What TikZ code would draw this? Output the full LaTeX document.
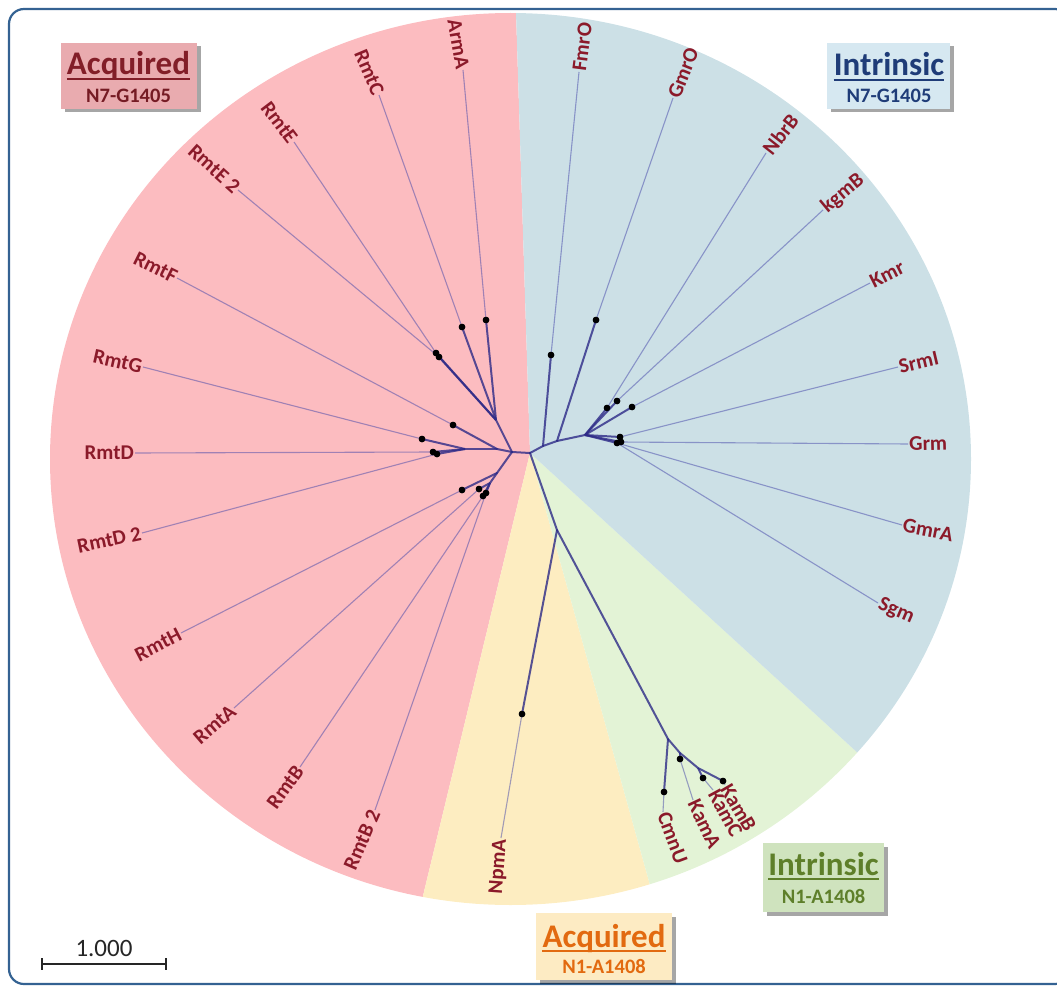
\documentclass[tikz,border=0pt]{standalone}
\usepackage{fontspec}
\setmainfont{Carlito}
\usetikzlibrary{shadows}
\definecolor{secpink}{RGB}{252,188,192}
\definecolor{secblue}{RGB}{204,224,230}
\definecolor{secyellow}{RGB}{253,237,193}
\definecolor{secgreen}{RGB}{227,243,214}
\definecolor{branchcol}{RGB}{45,42,135}
\definecolor{leafcol}{RGB}{70,72,170}
\definecolor{labcol}{RGB}{139,26,42}
\definecolor{framecol}{RGB}{52,98,146}
\definecolor{boxApink}{RGB}{233,171,175}
\definecolor{boxIblue}{RGB}{214,232,241}
\definecolor{boxIgreen}{RGB}{207,227,190}
\definecolor{boxAyellow}{RGB}{253,235,195}
\definecolor{txtApink}{RGB}{130,30,40}
\definecolor{txtIblue}{RGB}{31,60,120}
\definecolor{txtIgreen}{RGB}{94,127,42}
\definecolor{txtAyellow}{RGB}{226,106,16}
\newcommand\labfont{\fontsize{21}{25}\selectfont\bfseries}
\newcommand\legtitlefont{\fontsize{33}{38}\selectfont\bfseries}
\newcommand\legsubfont{\fontsize{20.5}{24}\selectfont\bfseries}
\newcommand\scalefont{\fontsize{25}{30}\selectfont}
\begin{document}
\begin{tikzpicture}[x=1pt,y=-1pt,
  dot/.style={circle, fill=black, inner sep=0pt, minimum size=6.5pt},
  branch/.style={draw=branchcol, draw opacity=0.8, line width=2pt},
  leafline/.style={draw=leafcol, draw opacity=0.5, line width=1.1pt},
  lab/.style={text=labcol, font=\labfont, inner sep=1pt},
  legbox/.style={inner sep=0pt, drop shadow={shadow xshift=3.5pt, shadow yshift=-3.5pt, fill=black, opacity=0.35}},
  legtitle/.style={anchor=base, inner sep=0pt, font=\legtitlefont},
  legsub/.style={anchor=base, inner sep=0pt, font=\legsubfont}]
\useasboundingbox (0,0) rectangle (1057,987);
% sectors
\begin{scope}
\clip (510.5,459) ellipse [x radius=460.5, y radius=446];
\fill[secpink] (530,453) -- (488,-870) -- (-1000,-870) -- (-1000,1794) -- (206,1794) -- cycle;
\fill[secyellow] (530,453) -- (206,1794) -- (890,1749) -- cycle;
\fill[secgreen] (530,453) -- (890,1749) -- (1520,1359) -- cycle;
\fill[secblue] (530,453) -- (1520,1359) -- (2000,1359) -- (2000,-870) -- (488,-870) -- cycle;
\end{scope}
% frame
\draw[framecol, line width=2.2pt, rounded corners=15pt] (9,9) rectangle (1070,984);
% internal coordinates
\coordinate (R) at (530,453);
\coordinate (P1) at (512,452);
\coordinate (P2) at (496,420);
\coordinate (P3) at (497,449);
\coordinate (P4) at (465,449);
\coordinate (P5) at (497,473);
\coordinate (P6) at (490,483);
\coordinate (B1) at (543,446);
\coordinate (B2) at (557,441);
\coordinate (B3) at (585,435);
\coordinate (Y1) at (557,530);
\coordinate (G1) at (668,739);
\coordinate (G2) at (680,753);
\coordinate (G3) at (698,768);
% dots
\node[dot] (dArmA) at (486,320) {};
\node[dot] (dRmtC) at (462,327) {};
\node[dot] (dRmtE) at (436,353) {};
\node[dot] (dRmtEb) at (439,357) {};
\node[dot] (dRmtF) at (453,425) {};
\node[dot] (dRmtG) at (422,439) {};
\node[dot] (dRmtD) at (433,452) {};
\node[dot] (dRmtDb) at (437,454) {};
\node[dot] (dRmtH) at (462,490) {};
\node[dot] (dRmtA) at (479,489) {};
\node[dot] (dRmtB) at (483,496) {};
\node[dot] (dRmtBb) at (486,493) {};
\node[dot] (dNpmA) at (522,714) {};
\node[dot] (dCmnU) at (664,792) {};
\node[dot] (dKamA) at (680,759) {};
\node[dot] (dKamC) at (703,778) {};
\node[dot] (dKamB) at (723,781) {};
\node[dot] (dFmrO) at (551,355) {};
\node[dot] (dGmrO) at (596,320) {};
\node[dot] (dNbrB) at (607,408) {};
\node[dot] (dkgmB) at (617,401) {};
\node[dot] (dKmr) at (632,407) {};
\node[dot] (dc1) at (617,443) {};
\node[dot] (dc2) at (620,437) {};
\node[dot] (dc3) at (621,442) {};
% leaf ends
\coordinate (eArmA) at (463,70);
\coordinate (eRmtC) at (379,95);
\coordinate (eRmtE) at (294,142);
\coordinate (eRmtEb) at (238,190);
\coordinate (eRmtF) at (177,278);
\coordinate (eRmtG) at (143,367);
\coordinate (eRmtD) at (135,453);
\coordinate (eRmtDb) at (142,533);
\coordinate (eRmtH) at (181,633);
\coordinate (eRmtA) at (234,708);
\coordinate (eRmtB) at (300,767);
\coordinate (eRmtBb) at (375,810);
\coordinate (eNpmA) at (501,838);
\coordinate (eCmnU) at (663,812);
\coordinate (eKamA) at (693,800);
\coordinate (eKamC) at (713,790);
\coordinate (eKamB) at (725,785);
\coordinate (eSgm) at (878,603);
\coordinate (eGmrA) at (902,525);
\coordinate (eGrm) at (908,444);
\coordinate (eSrmI) at (898,367);
\coordinate (eKmr) at (870,283);
\coordinate (ekgmB) at (823,210);
\coordinate (eNbrB) at (766,153);
\coordinate (eGmrO) at (673,98);
\coordinate (eFmrO) at (579,72);
% leaf lines
\foreach \n/\d in {ArmA/dArmA, RmtC/dRmtC, RmtE/dRmtE, RmtEb/dRmtEb, RmtF/dRmtF, RmtG/dRmtG, RmtD/dRmtD, RmtDb/dRmtDb, RmtH/dRmtH, RmtA/dRmtA, RmtB/dRmtB, RmtBb/dRmtBb, NpmA/dNpmA, CmnU/dCmnU, KamA/dKamA, KamC/dKamC, KamB/dKamB, Sgm/dc1, GmrA/dc1, Grm/dc3, SrmI/dc2, Kmr/dKmr, kgmB/dkgmB, NbrB/dNbrB, GmrO/dGmrO, FmrO/dFmrO}
  \draw[leafline] (\d.center) -- (e\n);
% internal branches
\foreach \a/\b in {R/P1, P1/P2, P1/P3, P3/P4, P1/P5, P5/P6, R/B1, B1/B2, B2/B3, R/Y1, Y1/G1, G1/G2, G2/G3}
  \draw[branch, line cap=round] (\a) -- (\b);
\foreach \a/\b in {P2/dArmA, P2/dRmtC, P2/dRmtE, P2/dRmtEb, P3/dRmtF, P4/dRmtG, P4/dRmtD, P4/dRmtDb, P5/dRmtH, P6/dRmtA, P6/dRmtB, P6/dRmtBb, Y1/dNpmA, G1/dCmnU, G2/dKamA, G3/dKamC, G3/dKamB, B1/dFmrO, B2/dGmrO, B3/dNbrB, B3/dkgmB, B3/dKmr, B3/dc1, B3/dc2, B3/dc3}
  \draw[branch] (\a) -- (\b.center);
% redraw dots on top
\foreach \d in {dArmA, dRmtC, dRmtE, dRmtEb, dRmtF, dRmtG, dRmtD, dRmtDb, dRmtH, dRmtA, dRmtB, dRmtBb, dNpmA, dCmnU, dKamA, dKamC, dKamB, dFmrO, dGmrO, dNbrB, dkgmB, dKmr, dc1, dc2, dc3}
  \fill[black] (\d.center) circle (3.25);
% leaf labels
\node[lab, anchor=east, rotate=-80.1] (lArmA) at (eArmA) {ArmA};
\node[lab, anchor=east, rotate=-67.1] (lRmtC) at (eRmtC) {RmtC};
\node[lab, anchor=east, rotate=-52.8] (lRmtE) at (eRmtE) {RmtE};
\node[lab, anchor=east, rotate=-42.0] (lRmtEb) at (eRmtEb) {RmtE 2};
\node[lab, anchor=east, rotate=-26.4] (lRmtF) at (eRmtF) {RmtF};
\node[lab, anchor=east, rotate=-12.5] (lRmtG) at (eRmtG) {RmtG};
\node[lab, anchor=east, rotate=0] (lRmtD) at (eRmtD) {RmtD};
\node[lab, anchor=east, rotate=11.7] (lRmtDb) at (eRmtDb) {RmtD 2};
\node[lab, anchor=east, rotate=27.3] (lRmtH) at (eRmtH) {RmtH};
\node[lab, anchor=east, rotate=40.7] (lRmtA) at (eRmtA) {RmtA};
\node[lab, anchor=east, rotate=53.8] (lRmtB) at (eRmtB) {RmtB};
\node[lab, anchor=east, rotate=66.5] (lRmtBb) at (eRmtBb) {RmtB 2};
\node[lab, anchor=east, rotate=85.7] (lNpmA) at (eNpmA) {NpmA};
\node[lab, anchor=west, rotate=-69.7] (lCmnU) at (eCmnU) {CmnU};
\node[lab, anchor=west, rotate=-64.8] (lKamA) at (eKamA) {KamA};
\node[lab, anchor=west, rotate=-61.5] (lKamC) at (eKamC) {KamC};
\node[lab, anchor=west, rotate=-59.6] (lKamB) at (eKamB) {KamB};
\node[lab, anchor=west, rotate=-23.3] (lSgm) at (eSgm) {Sgm};
\node[lab, anchor=west, rotate=-11.0] (lGmrA) at (eGmrA) {GmrA};
\node[lab, anchor=west, rotate=1.4] (lGrm) at (eGrm) {Grm};
\node[lab, anchor=west, rotate=13.2] (lSrmI) at (eSrmI) {SrmI};
\node[lab, anchor=west, rotate=26.6] (lKmr) at (eKmr) {Kmr};
\node[lab, anchor=west, rotate=39.7] (lkgmB) at (ekgmB) {kgmB};
\node[lab, anchor=west, rotate=51.8] (lNbrB) at (eNbrB) {NbrB};
\node[lab, anchor=west, rotate=68.1] (lGmrO) at (eGmrO) {GmrO};
\node[lab, anchor=west, rotate=82.7] (lFmrO) at (eFmrO) {FmrO};
% legend boxes
\node[legbox, fill=boxApink, minimum width=136pt, minimum height=66pt] (bAN7) at (129,76) {};
\node[legtitle, text=txtApink] (tAN7) at (128.5,75) {Acquired};
\draw[txtApink, line width=1.8pt] ([yshift=-4pt]tAN7.base west) -- ([yshift=-4pt]tAN7.base east);
\node[legsub, text=txtApink!90!black] (sAN7) at (128.5,103) {N7-G1405};

\node[legbox, fill=boxIblue, minimum width=123pt, minimum height=66pt] (bIN7) at (888.5,76) {};
\node[legtitle, text=txtIblue] (tIN7) at (889,76) {Intrinsic};
\draw[txtIblue, line width=1.8pt] ([yshift=-4pt]tIN7.base west) -- ([yshift=-4pt]tIN7.base east);
\node[legsub, text=txtIblue] (sIN7) at (889,103) {N7-G1405};

\node[legbox, fill=boxIgreen, minimum width=121pt, minimum height=69pt] (bIN1) at (823.5,877.5) {};
\node[legtitle, text=txtIgreen] (tIN1) at (823.5,875) {Intrinsic};
\draw[txtIgreen, line width=1.8pt] ([yshift=-4pt]tIN1.base west) -- ([yshift=-4pt]tIN1.base east);
\node[legsub, text=txtIgreen] (sIN1) at (823.5,903) {N1-A1408};

\node[legbox, fill=boxAyellow, minimum width=136pt, minimum height=67pt] (bAN1) at (604,946.5) {};
\node[legtitle, text=txtAyellow] (tAN1) at (604,947) {Acquired};
\draw[txtAyellow, line width=1.8pt] ([yshift=-4pt]tAN1.base west) -- ([yshift=-4pt]tAN1.base east);
\node[legsub, text=txtAyellow] (sAN1) at (604,973) {N1-A1408};
% scale bar
\node[anchor=base, inner sep=0pt, font=\scalefont, text=black!85] (scl) at (104,956) {1.000};
\coordinate (sb1) at (42,964);
\coordinate (sb2) at (166,964);
\draw[black!85, line width=2.4pt] (sb1) -- (sb2);
\draw[black!85, line width=2.4pt] ([yshift=6pt]sb1) -- ([yshift=-6pt]sb1);
\draw[black!85, line width=2.4pt] ([yshift=6pt]sb2) -- ([yshift=-6pt]sb2);
\end{tikzpicture}
\end{document}
